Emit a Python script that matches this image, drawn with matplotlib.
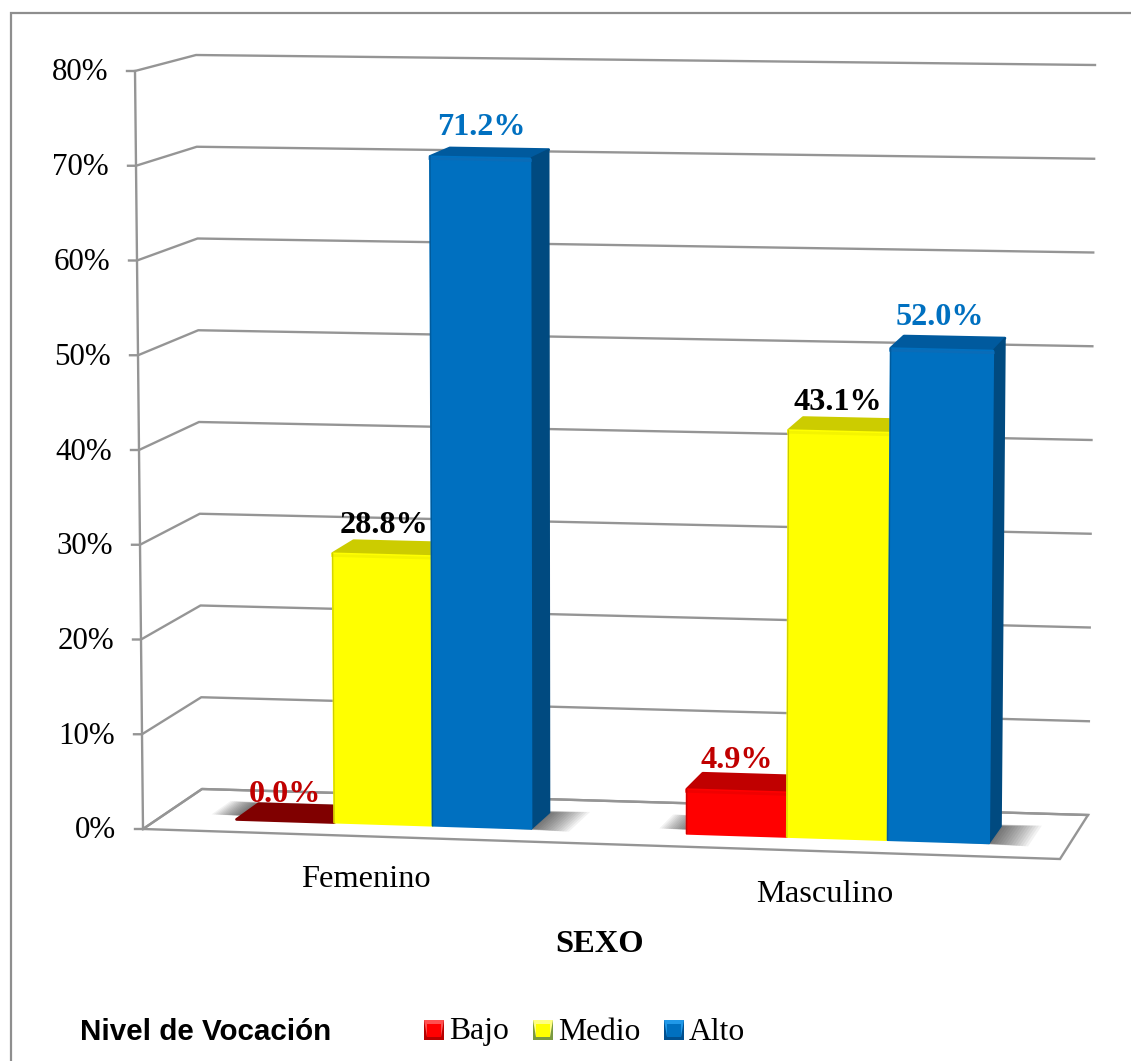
import numpy as np
import matplotlib
matplotlib.use('Agg')
import matplotlib.pyplot as plt

# chart values
categories = ['Femenino', 'Masculino']
levels = ['Bajo', 'Medio', 'Alto']
bajo = [0.0, 4.9]
medio = [28.8, 43.1]
alto = [71.2, 52.0]
ticks = [0, 10, 20, 30, 40, 50, 60, 70, 80]
axis_title = 'SEXO'
legend_title = 'Nivel de Vocación'

# colours per level: front, bevel, top, side, label
front_c = ['#FF0000', '#FFFF00', '#0070C0']
bevel_c = ['#F00000', '#F4F400', '#0A6CB8']
top_c = ['#C00000', '#CCCC00', '#005A9E']
side_c = ['#A00000', '#A8A800', '#004A80']
label_c = ['#C00000', '#000000', '#0070C0']
grid_c = '#959595'

# corners of the 3d box in pixels
FLB = np.array([143., 829.])
BLB = np.array([202., 789.])
FRB = np.array([1060., 859.])
BRB = np.array([1088., 815.])
FLT = np.array([135., 71.])
BLT = np.array([196., 55.])
FRT = np.array([1068., 92.])
BRT = np.array([1095., 65.])
VMAX = 80.0
D1, D2 = 0.30, 0.69
TOP_INSET = 2  # the bevel eats a little of each bar's top

# label nudges in pixels, [level][category]: (dx, dy)
label_nudge = [[(0, 9), (0, 6)], [(2, 4), (-2, 4)], [(1, -1), (-2, 0)]]


def project(u, v, d):
    # u along the category axis, v the value, d the depth (0 front, 1 back)
    s = u - 0.025 * u * (1 - u)
    bot = (FLB + (FRB - FLB) * s) * (1 - d) + (BLB + (BRB - BLB) * s) * d
    top = (FLT + (FRT - FLT) * s) * (1 - d) + (BLT + (BRT - BLT) * s) * d
    return bot + (top - bot) * v / VMAX


fig = plt.figure(figsize=(11.31, 10.61), dpi=100)
ax = fig.add_axes([0, 0, 1, 1])
ax.set_xlim(0, 1131)
ax.set_ylim(1061, 0)
ax.axis('off')

SERIF = 'Liberation Serif'

# outer frame
ax.plot([11, 11, 1131], [1061, 13, 13], color='#8E8E8E', lw=1.6, solid_joinstyle='miter')

# walls and ticks
for t in ticks:
    p0 = project(0, t, 0)
    p1 = project(0, t, 1)
    p2 = project(1, t, 1)
    ax.plot([p0[0] - 8, p0[0], p1[0], p2[0]], [p0[1], p0[1], p1[1], p2[1]],
            color=grid_c, lw=1.7, solid_joinstyle='round', zorder=1)
    ax.text(p0[0] - 27, p0[1] + 2, '%d%%' % t, ha='right', va='center',
            family=SERIF, fontsize=22.3, color='black')

a = project(0, 0, 0)
b = project(0, VMAX, 0)
ax.plot([a[0], b[0]], [a[1], b[1]], color=grid_c, lw=1.7, zorder=1)

# floor
corners = [project(0, 0, 0), project(1, 0, 0), project(1, 0, 1), project(0, 0, 1), project(0, 0, 0)]
ax.plot([c[0] for c in corners], [c[1] for c in corners], color=grid_c, lw=1.7,
        solid_joinstyle='miter', zorder=1)

series = [bajo, medio, alto]
group_w = 1.0 / len(categories)
bar_w = group_w / 1.52 / len(levels)


def bar_u(ci, li):
    start = (ci + 0.5) * group_w - bar_w * len(levels) / 2
    return start + li * bar_w, start + (li + 1) * bar_w


# soft shadows on the floor
for ci in range(len(categories)):
    u1 = bar_u(ci, 0)[0]
    u2 = bar_u(ci, len(levels) - 1)[1]
    for i in range(14):
        pad = 0.002 * (14 - i) * 1.55
        da = 0.012 * (14 - i) * 0.25
        poly = [project(u1 - pad * 0.8, 0, D1 + 0.1), project(u2 + pad, 0, D1 - da),
                project(u2 + pad, 0, D2 + da), project(u1 - pad * 0.8, 0, D2 + da)]
        ax.fill([p[0] for p in poly], [p[1] for p in poly], color='black', alpha=0.05,
                lw=0, zorder=2)

# bars
z = 3
for ci in range(len(categories)):
    for li in range(len(levels)):
        v = series[li][ci]
        u1, u2 = bar_u(ci, li)
        drop = np.array([0, TOP_INSET]) if v > 0 else np.array([0, 0])
        f1, f2 = project(u1, v, D1) + drop, project(u2, v, D1) + drop
        b1, b2 = project(u1, v, D2) + drop, project(u2, v, D2) + drop
        g1, g2 = project(u1, 0, D1), project(u2, 0, D1)
        g3 = project(u2, 0, D2)
        top = [f1, b1, b2, f2]
        tc = '#800000' if v == 0 else top_c[li]
        ax.fill([p[0] for p in top], [p[1] for p in top], color=tc, ec=tc, lw=2.0,
                joinstyle='round', zorder=z)
        if v > 0:
            side = [g2, g3, b2, f2]
            ax.fill([p[0] for p in side], [p[1] for p in side], color=side_c[li], ec=side_c[li],
                    lw=1.2, joinstyle='round', zorder=z)
            front = [g1, g2, f2, f1]
            ax.fill([p[0] for p in front], [p[1] for p in front], color=front_c[li], ec=front_c[li],
                    lw=1.4, joinstyle='round', zorder=z + 0.1)
            # bevel band along the top of the front face
            ax.plot([f1[0], f2[0]], [f1[1] + 2, f2[1] + 2], color=bevel_c[li], lw=2.0, zorder=z + 0.2)
            # thin dark seam down the left edge, as the bevel gives
            ax.plot([g1[0], f1[0]], [g1[1], f1[1]], color=side_c[li], lw=0.8, alpha=0.6, zorder=z + 0.2)
        z += 1
        # value label above the back edge of the top
        cx = (f1[0] + f2[0]) / 2
        nx, ny = label_nudge[li][ci]
        ax.text(cx + nx, (b1[1] + b2[1]) / 2 - 20 + ny, '%.1f%%' % v, ha='center', va='center',
                family=SERIF, fontsize=23.2, fontweight='bold', color=label_c[li], zorder=50)

# category labels
for ci, name in enumerate(categories):
    p = project((ci + 0.5) * group_w, 0, 0)
    ax.text(p[0] - 2, p[1] + 43, name, ha='center', va='center', family=SERIF, fontsize=23.4)

ax.text(600, 944, axis_title, ha='center', va='center', family=SERIF, fontsize=23.4, fontweight='bold')
ax.text(80, 1032, legend_title, ha='left', va='center', family='Liberation Sans', fontsize=21.3,
        fontweight='bold')

# legend
leg_x = [424, 533, 664]
leg_top = ['#FF5050', '#FFFF80', '#2098E8']
leg_bot = ['#B80000', '#7A9A40', '#005090']
for x, name, fc, tc, bc in zip(leg_x, levels, front_c, leg_top, leg_bot):
    ax.fill([x, x + 20, x + 20, x], [1020, 1020, 1040, 1040], color=bc, lw=0, zorder=5)
    ax.fill([x, x + 20, x + 17, x + 3], [1020, 1020, 1037, 1037], color=tc, lw=0, zorder=5)
    ax.fill([x + 3, x + 17, x + 17, x + 3], [1024, 1024, 1037, 1037], color=fc, lw=0, zorder=6)
    ax.text(x + 25, 1032, name, ha='left', va='center', family=SERIF, fontsize=22.8)

fig.savefig('out.png', dpi=100)
